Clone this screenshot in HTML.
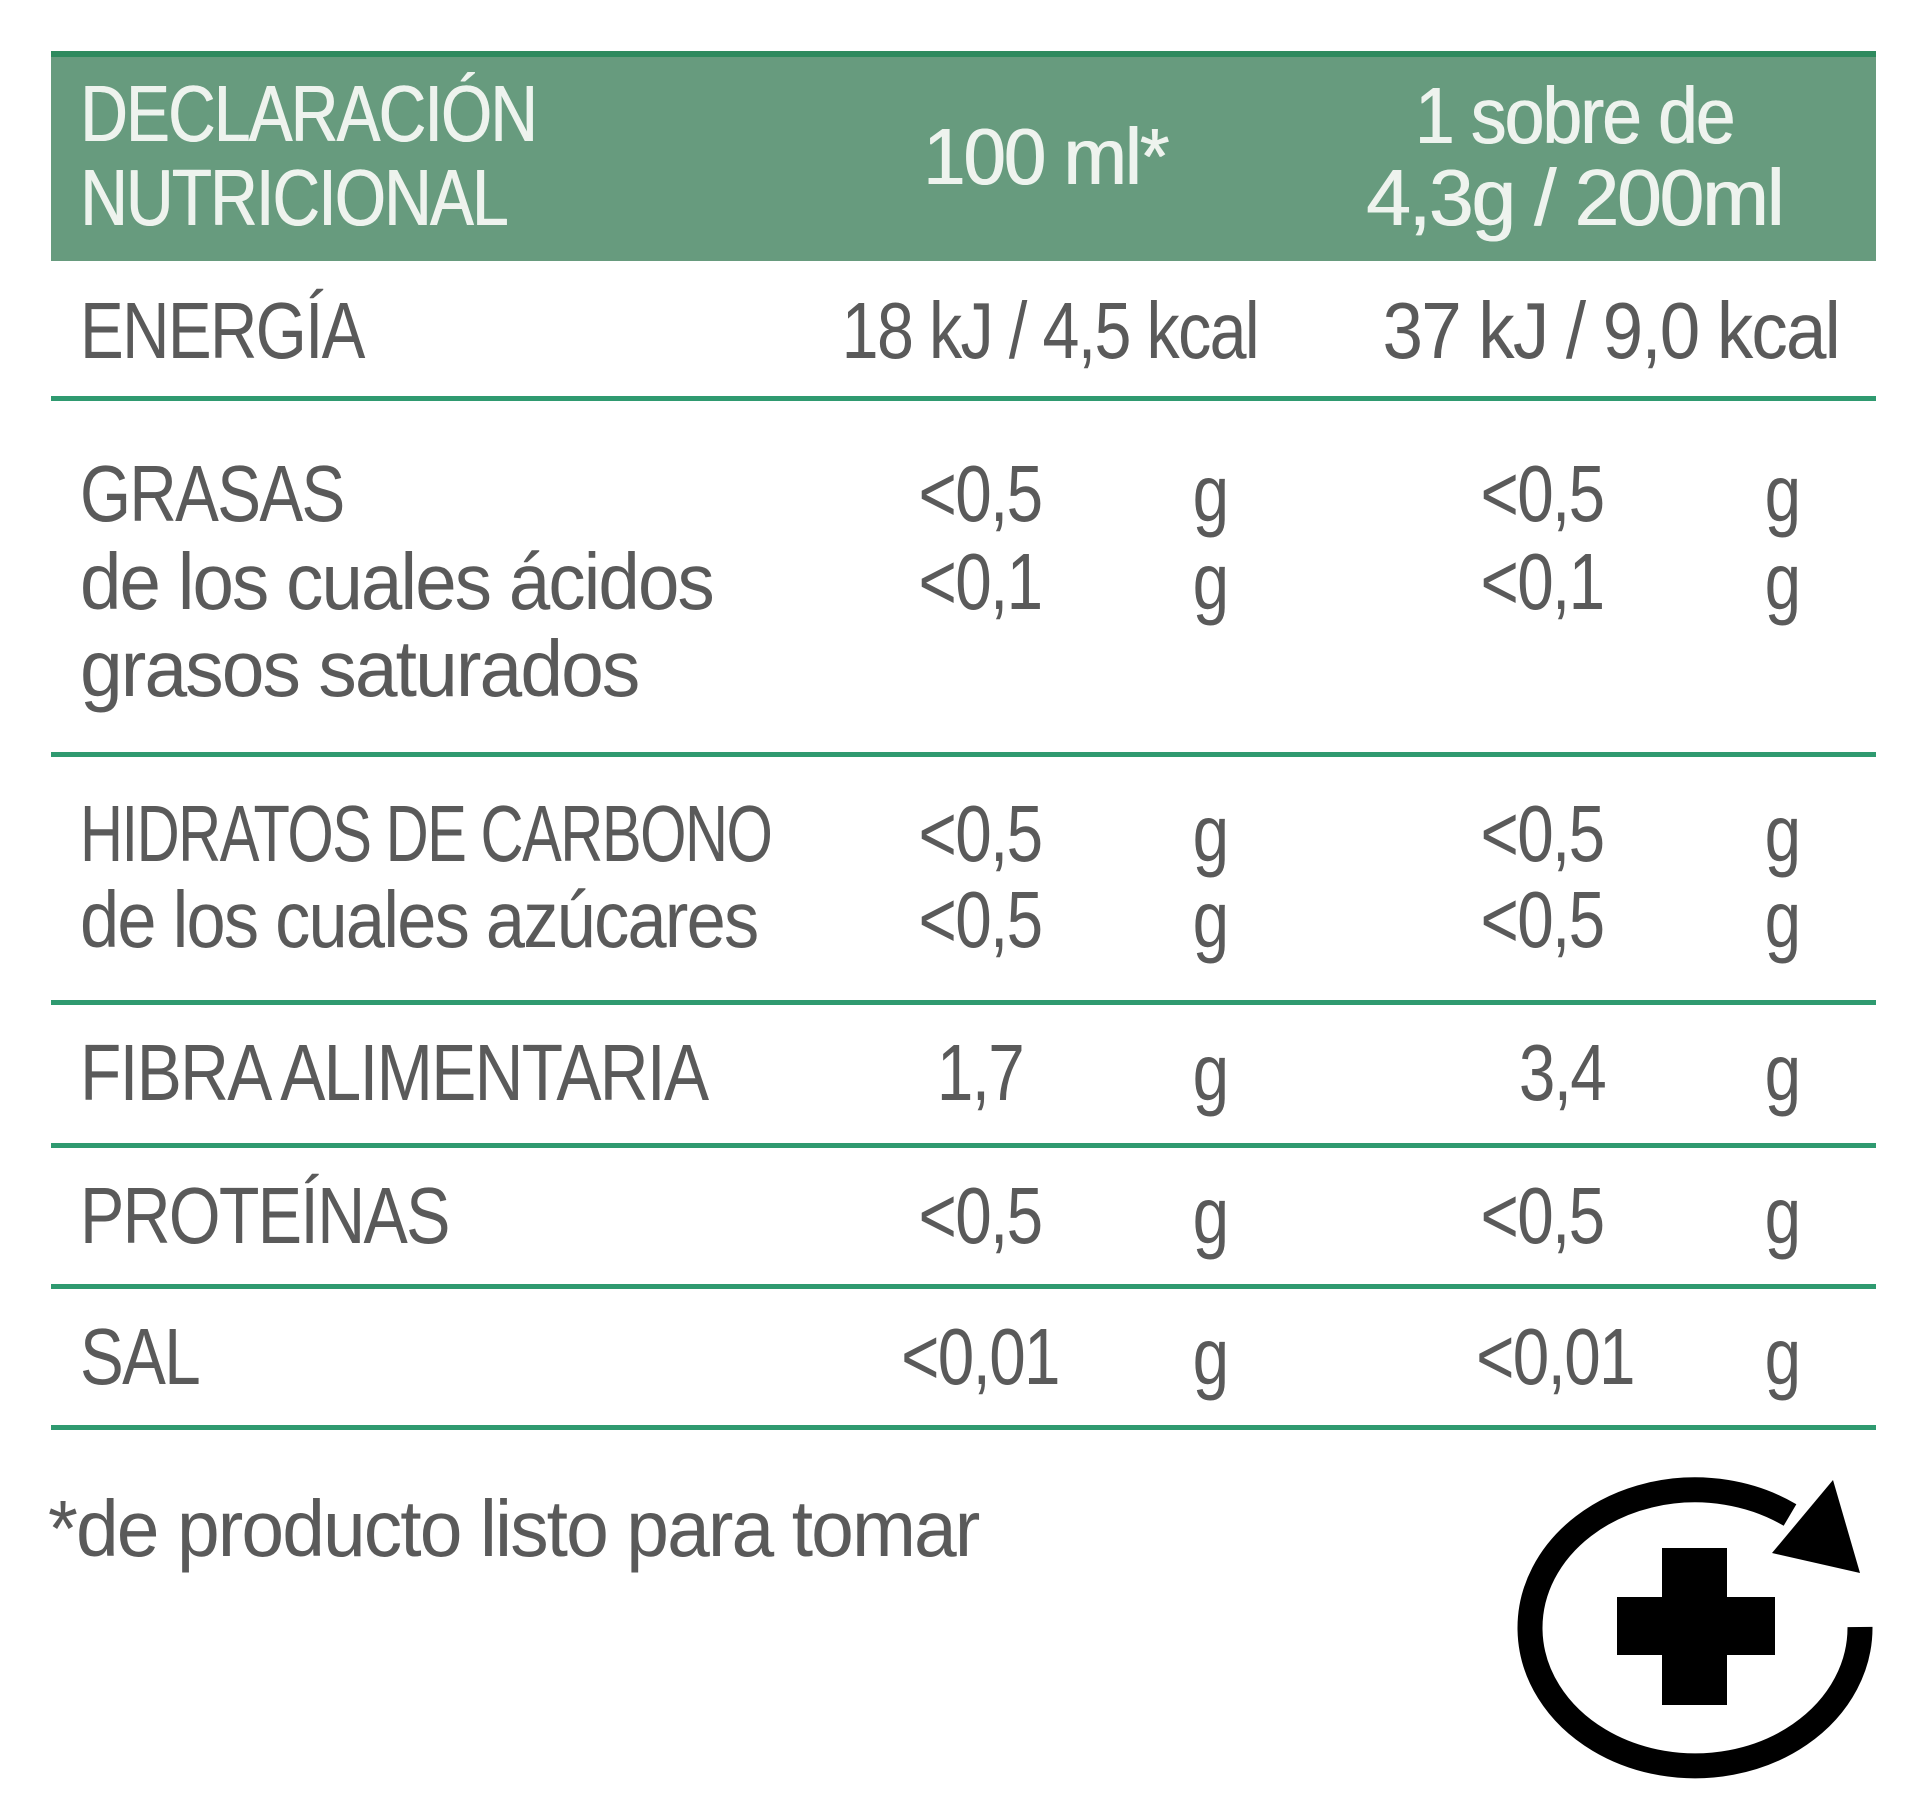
<!DOCTYPE html>
<html><head><meta charset="utf-8"><style>
html,body{margin:0;padding:0;background:#fff;}
body{width:1920px;height:1809px;position:relative;overflow:hidden;font-family:"Liberation Sans",sans-serif;}
.t{position:absolute;white-space:nowrap;font-size:80px;line-height:96px;height:96px;color:#5a5a5a;letter-spacing:-2px;}
.h{color:#eef3ee;text-shadow:1px 0 0 #eef3ee;}
.line{position:absolute;left:51px;width:1825px;height:5px;background:#2f9a70;}
</style></head><body>
<div style="position:absolute;left:51px;top:51px;width:1825px;height:210px;background:#679b7e;border-top:6px solid #2e8a5e;box-sizing:border-box;"></div>
<div class="line" style="top:396px"></div>
<div class="line" style="top:752px"></div>
<div class="line" style="top:1000px"></div>
<div class="line" style="top:1143px"></div>
<div class="line" style="top:1284px"></div>
<div class="line" style="top:1425px"></div>
<div id="txt"></div>
<svg width="1920" height="1809" style="position:absolute;left:0;top:0">
<path d="M1860 1627 A165 138 0 1 1 1790 1515" fill="none" stroke="#000" stroke-width="25"/>
<polygon points="1833,1480 1860,1573 1772,1553" fill="#000"/>
<rect x="1662" y="1548" width="65" height="157" fill="#000"/>
<rect x="1617" y="1597" width="158" height="58" fill="#000"/>
</svg>
<script>
const T=[
[80,116,"DECLARACIÓN","l",1,0.82],[80,200,"NUTRICIONAL","l",1,0.82],[1045,159,"100 ml*","c",1,0.95],
[1574,118,"1 sobre de","c",1,0.89],[1574,200,"4,3g / 200ml","c",1,1.0],
[80,333,"ENERGÍA","l",0,0.82],[1258,333,"18 kJ / 4,5 kcal","r",0,0.83],[1839,333,"37 kJ / 9,0 kcal","r",0,0.91],
[80,496,"GRASAS","l",0,0.82],[80,584,"de los cuales ácidos","l",0,0.93],[80,671,"grasos saturados","l",0,0.96],
[80,836,"HIDRATOS DE CARBONO","l",0,0.745],[80,922,"de los cuales azúcares","l",0,0.88],
[80,1075,"FIBRA ALIMENTARIA","l",0,0.845],[80,1218,"PROTEÍNAS","l",0,0.83],[80,1359,"SAL","l",0,0.82],
[980,496,"<0,5","c"],[980,584,"<0,1","c"],[980,836,"<0,5","c"],[980,922,"<0,5","c"],[980,1075,"1,7","c"],[980,1218,"<0,5","c"],[980,1359,"<0,01","c"],
[1542,496,"<0,5","c"],[1542,584,"<0,1","c"],[1542,836,"<0,5","c"],[1542,922,"<0,5","c"],[1562,1075,"3,4","c"],[1542,1218,"<0,5","c"],[1555,1359,"<0,01","c"],
[48,1531,"*de producto listo para tomar","l",0,0.96]];
const G=[496,584,836,922,1075,1218,1359];
const box=document.getElementById('txt');
function add(x,y,s,a,h,k){k=k||0.82;const d=document.createElement('div');


d.className='t'+(h?' h':'');d.textContent=s;d.style.left=x+'px';d.style.top=(y-50)+'px';
if(a==='l'){d.style.transformOrigin='left center';d.style.transform='scaleX('+k+')';}
else if(a==='c'){d.style.transformOrigin='center center';d.style.transform='translateX(-50%) scaleX('+k+')';}
else{d.style.transformOrigin='right center';d.style.transform='translateX(-100%) scaleX('+k+')';}
box.appendChild(d);}
T.forEach(r=>add(r[0],r[1],r[2],r[3],r[4],r[5]));
G.forEach(y=>{add(1210,y,"g","c");add(1782,y,"g","c");});
</script>
</body></html>
